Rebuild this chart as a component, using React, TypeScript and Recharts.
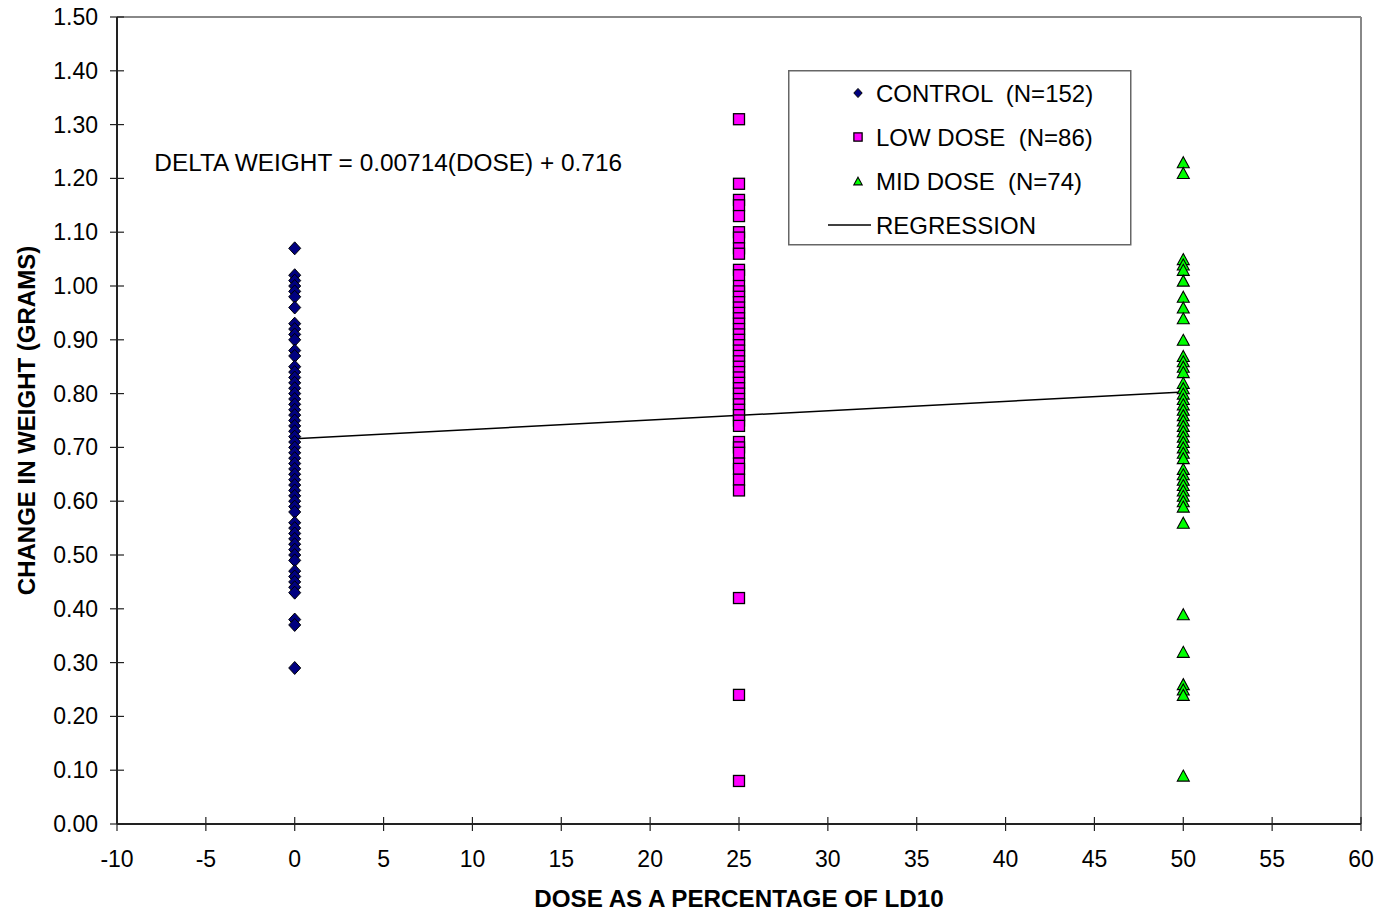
import React from "react";
import {
  ScatterChart,
  Scatter,
  XAxis,
  YAxis,
  Legend,
  ReferenceLine,
  ReferenceDot,
} from "recharts";

const FONT = '"Liberation Sans", Arial, sans-serif';

const X_TICKS = [-10, -5, 0, 5, 10, 15, 20, 25, 30, 35, 40, 45, 50, 55, 60];
const Y_TICKS = [0, 0.1, 0.2, 0.3, 0.4, 0.5, 0.6, 0.7, 0.8, 0.9, 1.0, 1.1, 1.2, 1.3, 1.4, 1.5];

// change in weight (grams)
const CONTROL_WEIGHTS = [
  1.07, 1.02, 1.01, 1.0, 0.99, 0.98, 0.96, 0.93, 0.92, 0.91, 0.9, 0.88, 0.87,
  0.85, 0.84, 0.83, 0.82, 0.81, 0.8, 0.79, 0.78, 0.77, 0.76, 0.75, 0.74, 0.73,
  0.72, 0.71, 0.7, 0.69, 0.68, 0.67, 0.66, 0.65, 0.64, 0.63, 0.62, 0.61, 0.6,
  0.59, 0.58, 0.56, 0.55, 0.54, 0.53, 0.52, 0.51, 0.5, 0.49, 0.47, 0.46, 0.45,
  0.44, 0.43, 0.38, 0.37, 0.29,
];

const LOW_DOSE_WEIGHTS = [
  1.31, 1.19, 1.16, 1.15, 1.13, 1.1, 1.09, 1.07, 1.06, 1.03, 1.02, 1.0, 0.99,
  0.98, 0.97, 0.96, 0.95, 0.94, 0.93, 0.92, 0.91, 0.9, 0.89, 0.88, 0.87, 0.86,
  0.85, 0.84, 0.83, 0.82, 0.81, 0.8, 0.79, 0.78, 0.77, 0.76, 0.75, 0.74, 0.71,
  0.7, 0.69, 0.67, 0.66, 0.64, 0.62, 0.42, 0.24, 0.08,
];

const MID_DOSE_WEIGHTS = [
  1.23, 1.21, 1.05, 1.04, 1.03, 1.01, 0.98, 0.96, 0.94, 0.9, 0.87, 0.86, 0.85,
  0.84, 0.82, 0.81, 0.8, 0.79, 0.78, 0.77, 0.76, 0.75, 0.74, 0.73, 0.72, 0.71,
  0.7, 0.69, 0.68, 0.66, 0.65, 0.64, 0.63, 0.62, 0.61, 0.6, 0.59, 0.56, 0.39,
  0.32, 0.26, 0.25, 0.24, 0.09,
];

// fitted line as drawn on the chart
const REGRESSION = [
  { dose: 0, weight: 0.716 },
  { dose: 50, weight: 0.803 },
];

const controlData = CONTROL_WEIGHTS.map((w) => ({ dose: 0, weight: w }));
const lowData = LOW_DOSE_WEIGHTS.map((w) => ({ dose: 25, weight: w }));
const midData = MID_DOSE_WEIGHTS.map((w) => ({ dose: 50, weight: w }));

function Diamond({ cx, cy, s = 1 }: any) {
  const w = 6 * s;
  const h = 6.5 * s;
  return (
    <path
      d={`M${cx},${cy - h}L${cx + w},${cy}L${cx},${cy + h}L${cx - w},${cy}Z`}
      fill="#000080"
      stroke="#000"
      strokeWidth={1}
    />
  );
}

function Square({ cx, cy, s = 1 }: any) {
  const h = 5.5 * s;
  return (
    <rect
      x={cx - h}
      y={cy - h}
      width={h * 2}
      height={h * 2}
      fill="#ff00ff"
      stroke="#000"
      strokeWidth={1.3}
    />
  );
}

function Triangle({ cx, cy, s = 1 }: any) {
  const w = 6 * s;
  const h = 5.5 * s;
  return (
    <path
      d={`M${cx},${cy - h}L${cx + w},${cy + h}L${cx - w},${cy + h}Z`}
      fill="#00ff00"
      stroke="#000"
      strokeWidth={1.1}
    />
  );
}

function XTick({ x, y, payload }: any) {
  return (
    <g>
      <line x1={x} x2={x} y1={y - 7} y2={y + 7} stroke="#222" strokeWidth={1.2} />
      <text x={x} y={y + 43} textAnchor="middle" fontSize={23} fontFamily={FONT} fill="#000">
        {payload.value}
      </text>
    </g>
  );
}

function YTick({ x, y, payload }: any) {
  return (
    <g>
      <line x1={x - 7} x2={x + 7} y1={y} y2={y} stroke="#222" strokeWidth={1.2} />
      <text x={x - 19} y={y + 8} textAnchor="end" fontSize={23} fontFamily={FONT} fill="#000">
        {Number(payload.value).toFixed(2)}
      </text>
    </g>
  );
}

const LEGEND_ITEMS = [
  { label: "CONTROL  (N=152)", kind: "diamond" },
  { label: "LOW DOSE  (N=86)", kind: "square" },
  { label: "MID DOSE  (N=74)", kind: "triangle" },
  { label: "REGRESSION", kind: "line" },
];

function LegendBox() {
  return (
    <svg width={344} height={176} style={{ display: "block" }}>
      <rect x={0.75} y={0.75} width={342} height={174} fill="#fff" stroke="#666" strokeWidth={1.5} />
      {LEGEND_ITEMS.map((item, i) => {
        const cy = 23 + i * 44;
        return (
          <g key={item.label}>
            {item.kind === "diamond" && <Diamond cx={70} cy={cy} s={0.7} />}
            {item.kind === "square" && <Square cx={70} cy={cy} s={0.75} />}
            {item.kind === "triangle" && <Triangle cx={70} cy={cy} s={0.7} />}
            {item.kind === "line" && (
              <line x1={40} x2={83} y1={cy} y2={cy} stroke="#000" strokeWidth={1.5} />
            )}
            <text x={88} y={cy + 8.5} fontSize={24} fontFamily={FONT} fill="#000" style={{ whiteSpace: "pre" }}>
              {item.label}
            </text>
          </g>
        );
      })}
    </svg>
  );
}

function EquationLabel({ viewBox }: any) {
  return (
    <text
      x={viewBox.x}
      y={viewBox.y + 8.5}
      fontSize={24.4}
      fontFamily={FONT}
      fill="#000"
      textAnchor="start"
    >
      DELTA WEIGHT = 0.00714(DOSE) + 0.716
    </text>
  );
}

export default function App() {
  return (
    <div style={{ position: "absolute", left: 0, top: 0, background: "#fff" }}>
      <ScatterChart
        width={1380}
        height={912}
        margin={{ top: 17, right: 19, left: 0, bottom: 0 }}
      >
        <XAxis
          type="number"
          dataKey="dose"
          domain={[-10, 60]}
          ticks={X_TICKS}
          interval={0}
          allowDataOverflow
          height={88}
          tickSize={0}
          tickMargin={0}
          tickLine={false}
          axisLine={{ stroke: "#222", strokeWidth: 2 }}
          tick={<XTick />}
          label={(props: any) => (
            <text
              x={props.viewBox.x + props.viewBox.width / 2}
              y={props.viewBox.y + 83}
              textAnchor="middle"
              fontSize={24.2}
              fontWeight="bold"
              fontFamily={FONT}
              fill="#000"
            >
              DOSE AS A PERCENTAGE OF LD10
            </text>
          )}
        />
        <YAxis
          type="number"
          dataKey="weight"
          domain={[0, 1.5]}
          ticks={Y_TICKS}
          interval={0}
          allowDataOverflow
          width={117}
          tickSize={0}
          tickMargin={0}
          tickLine={false}
          axisLine={{ stroke: "#222", strokeWidth: 2 }}
          tick={<YTick />}
          label={(props: any) => {
            const cx = 26;
            const cy = props.viewBox.y + props.viewBox.height / 2;
            return (
              <text
                x={cx}
                y={cy}
                transform={`rotate(-90 ${cx} ${cy})`}
                textAnchor="middle"
                dominantBaseline="central"
                fontSize={24}
                fontWeight="bold"
                fontFamily={FONT}
                fill="#000"
              >
                CHANGE IN WEIGHT (GRAMS)
              </text>
            );
          }}
        />
        <ReferenceLine y={1.5} stroke="#888" strokeWidth={2} />
        <ReferenceLine x={60} stroke="#888" strokeWidth={2} />
        <ReferenceDot
          x={-7.9}
          y={1.229}
          r={0}
          fill="none"
          stroke="none"
          label={<EquationLabel />}
        />
        <Scatter
          name="REGRESSION"
          data={REGRESSION}
          line={{ stroke: "#000", strokeWidth: 1.5 }}
          shape={() => <g />}
          isAnimationActive={false}
        />
        <Scatter
          name="CONTROL  (N=152)"
          data={controlData}
          shape={(p: any) => <Diamond cx={p.cx} cy={p.cy} />}
          isAnimationActive={false}
        />
        <Scatter
          name="LOW DOSE  (N=86)"
          data={lowData}
          shape={(p: any) => <Square cx={p.cx} cy={p.cy} />}
          isAnimationActive={false}
        />
        <Scatter
          name="MID DOSE  (N=74)"
          data={midData}
          shape={(p: any) => <Triangle cx={p.cx} cy={p.cy} />}
          isAnimationActive={false}
        />
        <Legend
          layout="horizontal"
          verticalAlign="middle"
          align="center"
          content={() => <LegendBox />}
          wrapperStyle={{ left: 788, top: 70, width: 344, height: 176 }}
        />
      </ScatterChart>
    </div>
  );
}
